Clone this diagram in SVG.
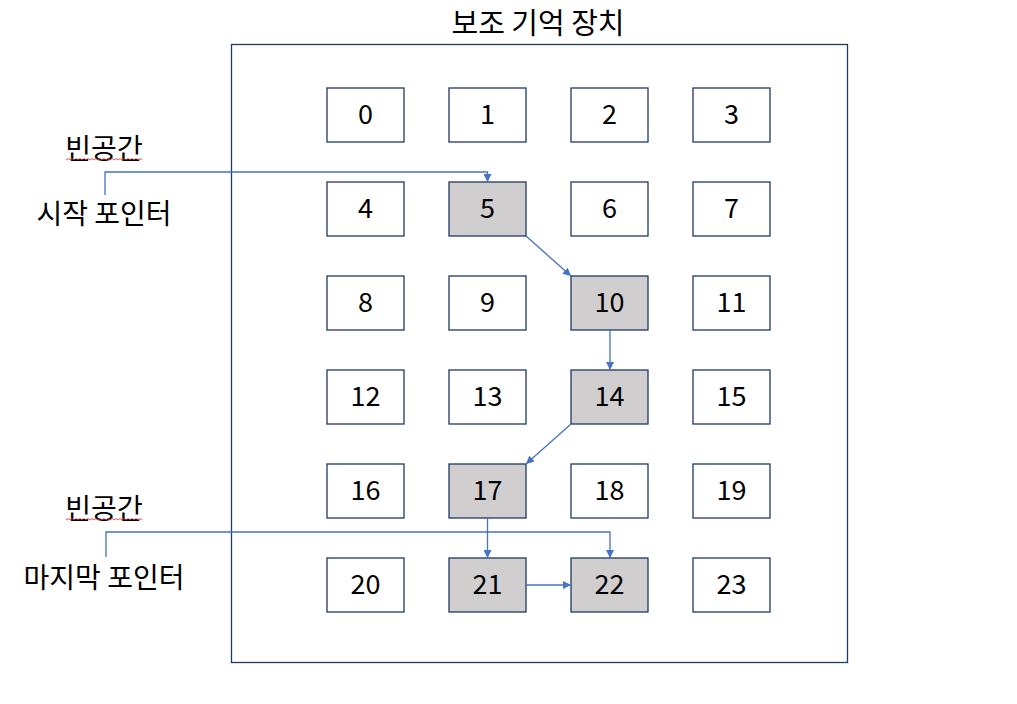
<svg xmlns="http://www.w3.org/2000/svg" width="1017" height="704" viewBox="0 0 1017 704">
<style>
.t{font-family:"Noto Sans CJK KR","Noto Sans",sans-serif;fill:#000}
.n rect{fill:#fff;stroke:#1F3864;stroke-width:1.3}
.n.g rect{fill:#D0CECE}
.n text{font-size:27px;text-anchor:middle;dominant-baseline:central}
.lb{font-size:28px;text-anchor:middle;dominant-baseline:central}
.c{fill:none;stroke:#4472C4;stroke-width:1.3}
.sq{fill:none;stroke:#E04040;stroke-width:0.9}
</style>
<defs>
<marker id="ah" viewBox="0 0 10 10" refX="10" refY="5" markerWidth="8" markerHeight="8" markerUnits="userSpaceOnUse" orient="auto">
<path d="M0,0 L10,5 L0,10 z" fill="#4472C4"/>
</marker>
</defs>
<rect id="storage" x="231.5" y="44.5" width="616" height="618" fill="#fff" stroke="#1F3864" stroke-width="1.3"/>
<text class="t" x="538" y="21" font-size="29" text-anchor="middle" dominant-baseline="central">보조 기억 장치</text>
<g id="n0" class="n"><rect x="327" y="88" width="77" height="54"/><text class="t" x="365.5" y="112">0</text></g>
<g id="n1" class="n"><rect x="449" y="88" width="77" height="54"/><text class="t" x="487.5" y="112">1</text></g>
<g id="n2" class="n"><rect x="571" y="88" width="77" height="54"/><text class="t" x="609.5" y="112">2</text></g>
<g id="n3" class="n"><rect x="693" y="88" width="77" height="54"/><text class="t" x="731.5" y="112">3</text></g>
<g id="n4" class="n"><rect x="327" y="182" width="77" height="54"/><text class="t" x="365.5" y="206">4</text></g>
<g id="n5" class="n g"><rect x="449" y="182" width="77" height="54"/><text class="t" x="487.5" y="206">5</text></g>
<g id="n6" class="n"><rect x="571" y="182" width="77" height="54"/><text class="t" x="609.5" y="206">6</text></g>
<g id="n7" class="n"><rect x="693" y="182" width="77" height="54"/><text class="t" x="731.5" y="206">7</text></g>
<g id="n8" class="n"><rect x="327" y="276" width="77" height="54"/><text class="t" x="365.5" y="300">8</text></g>
<g id="n9" class="n"><rect x="449" y="276" width="77" height="54"/><text class="t" x="487.5" y="300">9</text></g>
<g id="n10" class="n g"><rect x="571" y="276" width="77" height="54"/><text class="t" x="609.5" y="300">10</text></g>
<g id="n11" class="n"><rect x="693" y="276" width="77" height="54"/><text class="t" x="731.5" y="300">11</text></g>
<g id="n12" class="n"><rect x="327" y="370" width="77" height="54"/><text class="t" x="365.5" y="394">12</text></g>
<g id="n13" class="n"><rect x="449" y="370" width="77" height="54"/><text class="t" x="487.5" y="394">13</text></g>
<g id="n14" class="n g"><rect x="571" y="370" width="77" height="54"/><text class="t" x="609.5" y="394">14</text></g>
<g id="n15" class="n"><rect x="693" y="370" width="77" height="54"/><text class="t" x="731.5" y="394">15</text></g>
<g id="n16" class="n"><rect x="327" y="464" width="77" height="54"/><text class="t" x="365.5" y="488">16</text></g>
<g id="n17" class="n g"><rect x="449" y="464" width="77" height="54"/><text class="t" x="487.5" y="488">17</text></g>
<g id="n18" class="n"><rect x="571" y="464" width="77" height="54"/><text class="t" x="609.5" y="488">18</text></g>
<g id="n19" class="n"><rect x="693" y="464" width="77" height="54"/><text class="t" x="731.5" y="488">19</text></g>
<g id="n20" class="n"><rect x="327" y="558" width="77" height="54"/><text class="t" x="365.5" y="582">20</text></g>
<g id="n21" class="n g"><rect x="449" y="558" width="77" height="54"/><text class="t" x="487.5" y="582">21</text></g>
<g id="n22" class="n g"><rect x="571" y="558" width="77" height="54"/><text class="t" x="609.5" y="582">22</text></g>
<g id="n23" class="n"><rect x="693" y="558" width="77" height="54"/><text class="t" x="731.5" y="582">23</text></g>
<g id="start-label">
<text class="t lb" x="104" y="147">빈공간</text>
<path class="sq" d="M66,160 l2,-1.5 l2,1.5 l2,-1.5 l2,1.5 l2,-1.5 l2,1.5 l2,-1.5 l2,1.5 l2,-1.5 l2,1.5 l2,-1.5 l2,1.5 l2,-1.5 l2,1.5 l2,-1.5 l2,1.5 l2,-1.5 l2,1.5 l2,-1.5 l2,1.5 l2,-1.5 l2,1.5 l2,-1.5 l2,1.5 l2,-1.5 l2,1.5 l2,-1.5 l2,1.5 l2,-1.5 l2,1.5 l2,-1.5 l2,1.5 l2,-1.5 l2,1.5 l2,-1.5 l2,1.5 l2,-1.5 l2,1.5"/>
<text class="t lb" x="104" y="212">시작 포인터</text>
</g>
<g id="end-label">
<text class="t lb" x="104" y="507">빈공간</text>
<path class="sq" d="M66,520 l2,-1.5 l2,1.5 l2,-1.5 l2,1.5 l2,-1.5 l2,1.5 l2,-1.5 l2,1.5 l2,-1.5 l2,1.5 l2,-1.5 l2,1.5 l2,-1.5 l2,1.5 l2,-1.5 l2,1.5 l2,-1.5 l2,1.5 l2,-1.5 l2,1.5 l2,-1.5 l2,1.5 l2,-1.5 l2,1.5 l2,-1.5 l2,1.5 l2,-1.5 l2,1.5 l2,-1.5 l2,1.5 l2,-1.5 l2,1.5 l2,-1.5 l2,1.5 l2,-1.5 l2,1.5 l2,-1.5 l2,1.5"/>
<text class="t lb" x="104" y="576">마지막 포인터</text>
</g>
<g id="connectors">
<path class="c" d="M105,195 V172 H487.5 V182" marker-end="url(#ah)"/>
<path class="c" d="M106,557 V532 H610 V558" marker-end="url(#ah)"/>
<path class="c" d="M526,236 L571,276" marker-end="url(#ah)"/>
<path class="c" d="M610,330 V370" marker-end="url(#ah)"/>
<path class="c" d="M571,424 L526,464" marker-end="url(#ah)"/>
<path class="c" d="M487.5,518 V558" marker-end="url(#ah)"/>
<path class="c" d="M526,585 H571" marker-end="url(#ah)"/>
</g>
</svg>
